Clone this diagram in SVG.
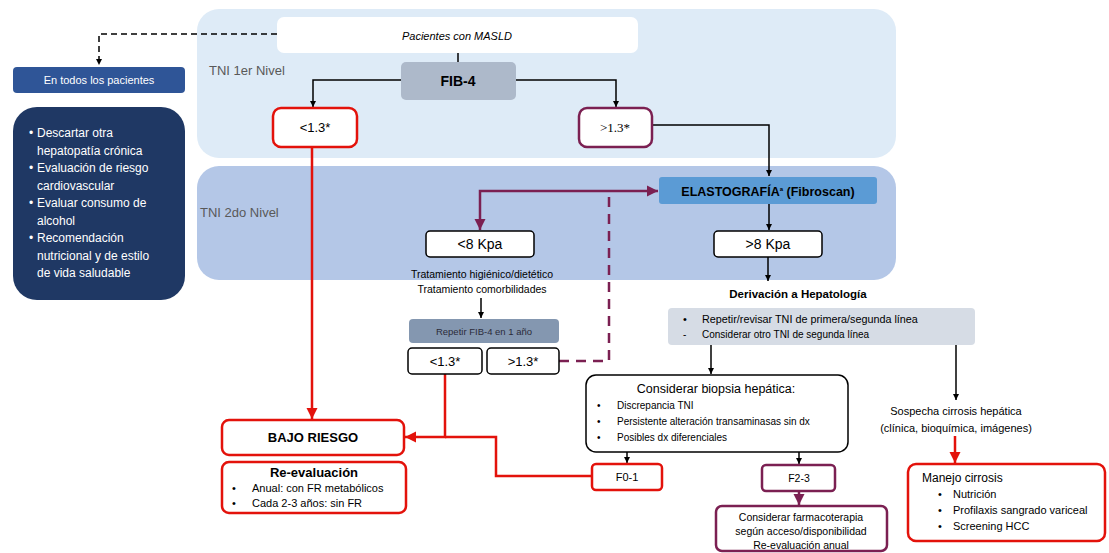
<svg xmlns="http://www.w3.org/2000/svg" width="1109" height="553" viewBox="0 0 1109 553">
<style>
text{font-family:"Liberation Sans",Arial,sans-serif;fill:#000}
.c{text-anchor:middle}
.b{font-weight:bold}
.w{fill:#fff}
.box{fill:#fff;stroke:#000;stroke-width:1.5}
.red{fill:#fff;stroke:#e3120b;stroke-width:2.5}
.pur{fill:#fff;stroke:#7b2052;stroke-width:2.5}
.lb{fill:none;stroke:#000;stroke-width:1.5}
.lr{fill:none;stroke:#e3120b;stroke-width:2.5}
.lp{fill:none;stroke:#7b2052;stroke-width:2.5}
</style>
<defs>
<marker id="ab" viewBox="0 0 10 10" refX="10" refY="5" markerWidth="7" markerHeight="6" markerUnits="userSpaceOnUse" orient="auto-start-reverse"><path d="M0,0 L10,5 L0,10 z" fill="#000"/></marker>
<marker id="ar" viewBox="0 0 10 10" refX="10" refY="5" markerWidth="11" markerHeight="13" markerUnits="userSpaceOnUse" orient="auto-start-reverse"><path d="M0,0 L10,5 L0,10 z" fill="#e3120b"/></marker>
<marker id="ap" viewBox="0 0 10 10" refX="10" refY="5" markerWidth="11" markerHeight="13" markerUnits="userSpaceOnUse" orient="auto-start-reverse"><path d="M0,0 L10,5 L0,10 z" fill="#7b2052"/></marker>
</defs>
<rect width="1109" height="553" fill="#fff"/>
<g id="panel1"><rect x="197" y="9" width="699" height="149" rx="22" fill="#deebf7"/><text x="209" y="75" font-size="13" style="fill:#595959">TNI 1er Nivel</text></g>
<g id="panel2"><rect x="197" y="166" width="699" height="114" rx="22" fill="#b4c7e7"/><text x="200" y="217" font-size="13" style="fill:#595959">TNI 2do Nivel</text></g>

<g id="connectors">
<path class="lb" d="M277,34 H99 V65" stroke-dasharray="6,4" marker-end="url(#ab)"/>
<path class="lb" d="M458,53 V62"/>
<path class="lb" d="M401,80 H313 V107" marker-end="url(#ab)"/>
<path class="lb" d="M516,80 H616 V107" marker-end="url(#ab)"/>
<path class="lb" d="M652,125 H769 V176" marker-end="url(#ab)"/>
<path class="lb" d="M769,204 V230" marker-end="url(#ab)"/>
<path class="lb" d="M768,257 V281" marker-end="url(#ab)"/>
<path class="lp" d="M480,230 V191 H658" marker-start="url(#ap)" marker-end="url(#ap)"/>
<path class="lb" d="M481,298 V318" marker-end="url(#ab)"/>
<path class="lp" d="M559,361 H609 V191" stroke-dasharray="10,7"/>
<path class="lr" d="M312,147 V419" marker-end="url(#ar)"/>
<path class="lr" d="M445,374 V437 H405" marker-end="url(#ar)"/>
<path class="lr" d="M592,476 H496 V437 H445"/>
<path class="lb" d="M711,345 V374" marker-end="url(#ab)"/>
<path class="lb" d="M956,345 V400" marker-end="url(#ab)"/>
<path class="lb" d="M627,452 V463" marker-end="url(#ab)"/>
<path class="lb" d="M799,452 V464" marker-end="url(#ab)"/>
<path class="lp" d="M799,491 V505" marker-end="url(#ap)"/>
<path class="lr" d="M955,436 V463" marker-end="url(#ar)"/>
</g>

<g id="pacientes"><rect x="277" y="17" width="361" height="36" rx="7" fill="#fff"/><text class="c" x="457" y="40" font-size="11" font-style="italic">Pacientes con MASLD</text></g>
<g id="todos"><rect x="13" y="67" width="172" height="26" rx="4" fill="#2f5597"/><text class="c w" x="99" y="84" font-size="11">En todos los pacientes</text></g>
<g id="lista" font-size="12">
<rect x="13" y="107" width="172" height="193" rx="24" fill="#1f3864"/>
<text class="w" x="29" y="137">•</text><text class="w" x="37" y="137">Descartar otra</text>
<text class="w" x="37" y="154.5">hepatopatía crónica</text>
<text class="w" x="29" y="172">•</text><text class="w" x="37" y="172">Evaluación de riesgo</text>
<text class="w" x="37" y="189.5">cardiovascular</text>
<text class="w" x="29" y="207">•</text><text class="w" x="37" y="207">Evaluar consumo de</text>
<text class="w" x="37" y="224.5">alcohol</text>
<text class="w" x="29" y="242">•</text><text class="w" x="37" y="242">Recomendación</text>
<text class="w" x="37" y="259.5">nutricional y de estilo</text>
<text class="w" x="37" y="277">de vida saludable</text>
</g>
<g id="fib4"><rect x="401" y="62" width="115" height="38" rx="5" fill="#adb9ca"/><text class="c b" x="458" y="86" font-size="14">FIB-4</text></g>
<g id="menor13"><rect class="red" x="273" y="108" width="84" height="39" rx="8"/><text class="c" x="315" y="132" font-size="13">&lt;1.3*</text></g>
<g id="mayor13"><rect class="pur" x="579" y="108" width="73" height="39" rx="8"/><text class="c" x="615" y="132" font-size="13" style="font-family:'Liberation Serif',serif">&gt;1.3*</text></g>
<g id="elasto"><rect x="659" y="177" width="218" height="27" rx="3" fill="#5b9bd5"/><text class="c b" x="768" y="196" font-size="12.5">ELASTOGRAFÍA<tspan font-size="6" dy="-5">a</tspan><tspan dy="5"> (Fibroscan)</tspan></text></g>
<g id="mayor8"><rect class="box" x="714" y="231" width="108" height="26" rx="4"/><text class="c" x="768" y="249" font-size="14">&gt;8 Kpa</text></g>
<g id="menor8"><rect class="box" x="426" y="231" width="108" height="26" rx="4"/><text class="c" x="480" y="249" font-size="14">&lt;8 Kpa</text></g>
<g id="tratamiento" font-size="10.5"><text class="c" x="482" y="278">Tratamiento higiénico/dietético</text><text class="c" x="482" y="293">Tratamiento comorbilidades</text></g>
<g id="repetir"><rect x="409" y="319" width="150" height="24" rx="4" fill="#8497b0"/><text class="c" x="484" y="335" font-size="9.5" style="fill:#2b2b3a">Repetir FIB-4 en 1 año</text></g>
<g id="menor13b"><rect class="box" x="408" y="348" width="74" height="26" rx="4"/><text class="c" x="445" y="366" font-size="13">&lt;1.3*</text></g>
<g id="mayor13b"><rect class="box" x="487" y="348" width="72" height="26" rx="4"/><text class="c" x="523" y="366" font-size="13">&gt;1.3*</text></g>
<g id="bajo"><rect class="red" x="222" y="420" width="182" height="35" rx="7"/><text class="c b" x="313" y="442" font-size="13">BAJO RIESGO</text></g>
<g id="reeval"><rect class="red" x="222" y="462" width="184" height="51" rx="7"/><text class="c b" x="314" y="477" font-size="13">Re-evaluación</text>
<text x="232" y="492" font-size="11">•</text><text x="252" y="492" font-size="11">Anual: con FR metabólicos</text>
<text x="232" y="507" font-size="11">•</text><text x="252" y="507" font-size="11">Cada 2-3 años: sin FR</text></g>
<g id="derivacion"><text class="c b" x="798" y="298" font-size="11.5">Derivación a Hepatología</text></g>
<g id="repetirtni"><rect x="668" y="308" width="307" height="37" rx="4" fill="#d6dce5"/>
<text x="683" y="323" font-size="11">•</text><text x="702" y="323" font-size="10.8">Repetir/revisar TNI de primera/segunda línea</text>
<text x="683" y="338" font-size="10">-</text><text x="702" y="338" font-size="10">Considerar otro TNI de segunda línea</text></g>
<g id="biopsia"><rect class="box" x="586" y="375" width="262" height="77" rx="10"/><text class="c" x="716" y="393" font-size="12.5">Considerar biopsia hepática:</text>
<text x="597" y="409" font-size="10">•</text><text x="617" y="409" font-size="10">Discrepancia TNI</text>
<text x="597" y="425" font-size="10">•</text><text x="617" y="425" font-size="10">Persistente alteración transaminasas sin dx</text>
<text x="597" y="441" font-size="10">•</text><text x="617" y="441" font-size="10">Posibles dx diferenciales</text></g>
<g id="f01"><rect class="red" x="592" y="464" width="70" height="26" rx="4"/><text class="c" x="627" y="481" font-size="11">F0-1</text></g>
<g id="f23"><rect class="pur" x="762" y="465" width="73" height="26" rx="4"/><text class="c" x="799" y="482" font-size="10.5">F2-3</text></g>
<g id="farmaco"><rect class="pur" x="716" y="506" width="171" height="45" rx="6"/>
<text class="c" x="801" y="521" font-size="10.5">Considerar farmacoterapia</text>
<text class="c" x="801" y="535" font-size="10.5">según acceso/disponibilidad</text>
<text class="c" x="801" y="549" font-size="10.5">Re-evaluación anual</text></g>
<g id="sospecha" font-size="11"><text class="c" x="956" y="415">Sospecha cirrosis hepática</text><text class="c" x="956" y="432">(clínica, bioquímica, imágenes)</text></g>
<g id="manejo"><rect class="red" x="908" y="464" width="197" height="77" rx="8"/>
<text x="922" y="482" font-size="12">Manejo cirrosis</text>
<text x="938" y="498" font-size="11">•</text><text x="953" y="498" font-size="11">Nutrición</text>
<text x="938" y="514" font-size="11">•</text><text x="953" y="514" font-size="11">Profilaxis sangrado variceal</text>
<text x="938" y="530" font-size="11">•</text><text x="953" y="530" font-size="11">Screening HCC</text></g>
</svg>
